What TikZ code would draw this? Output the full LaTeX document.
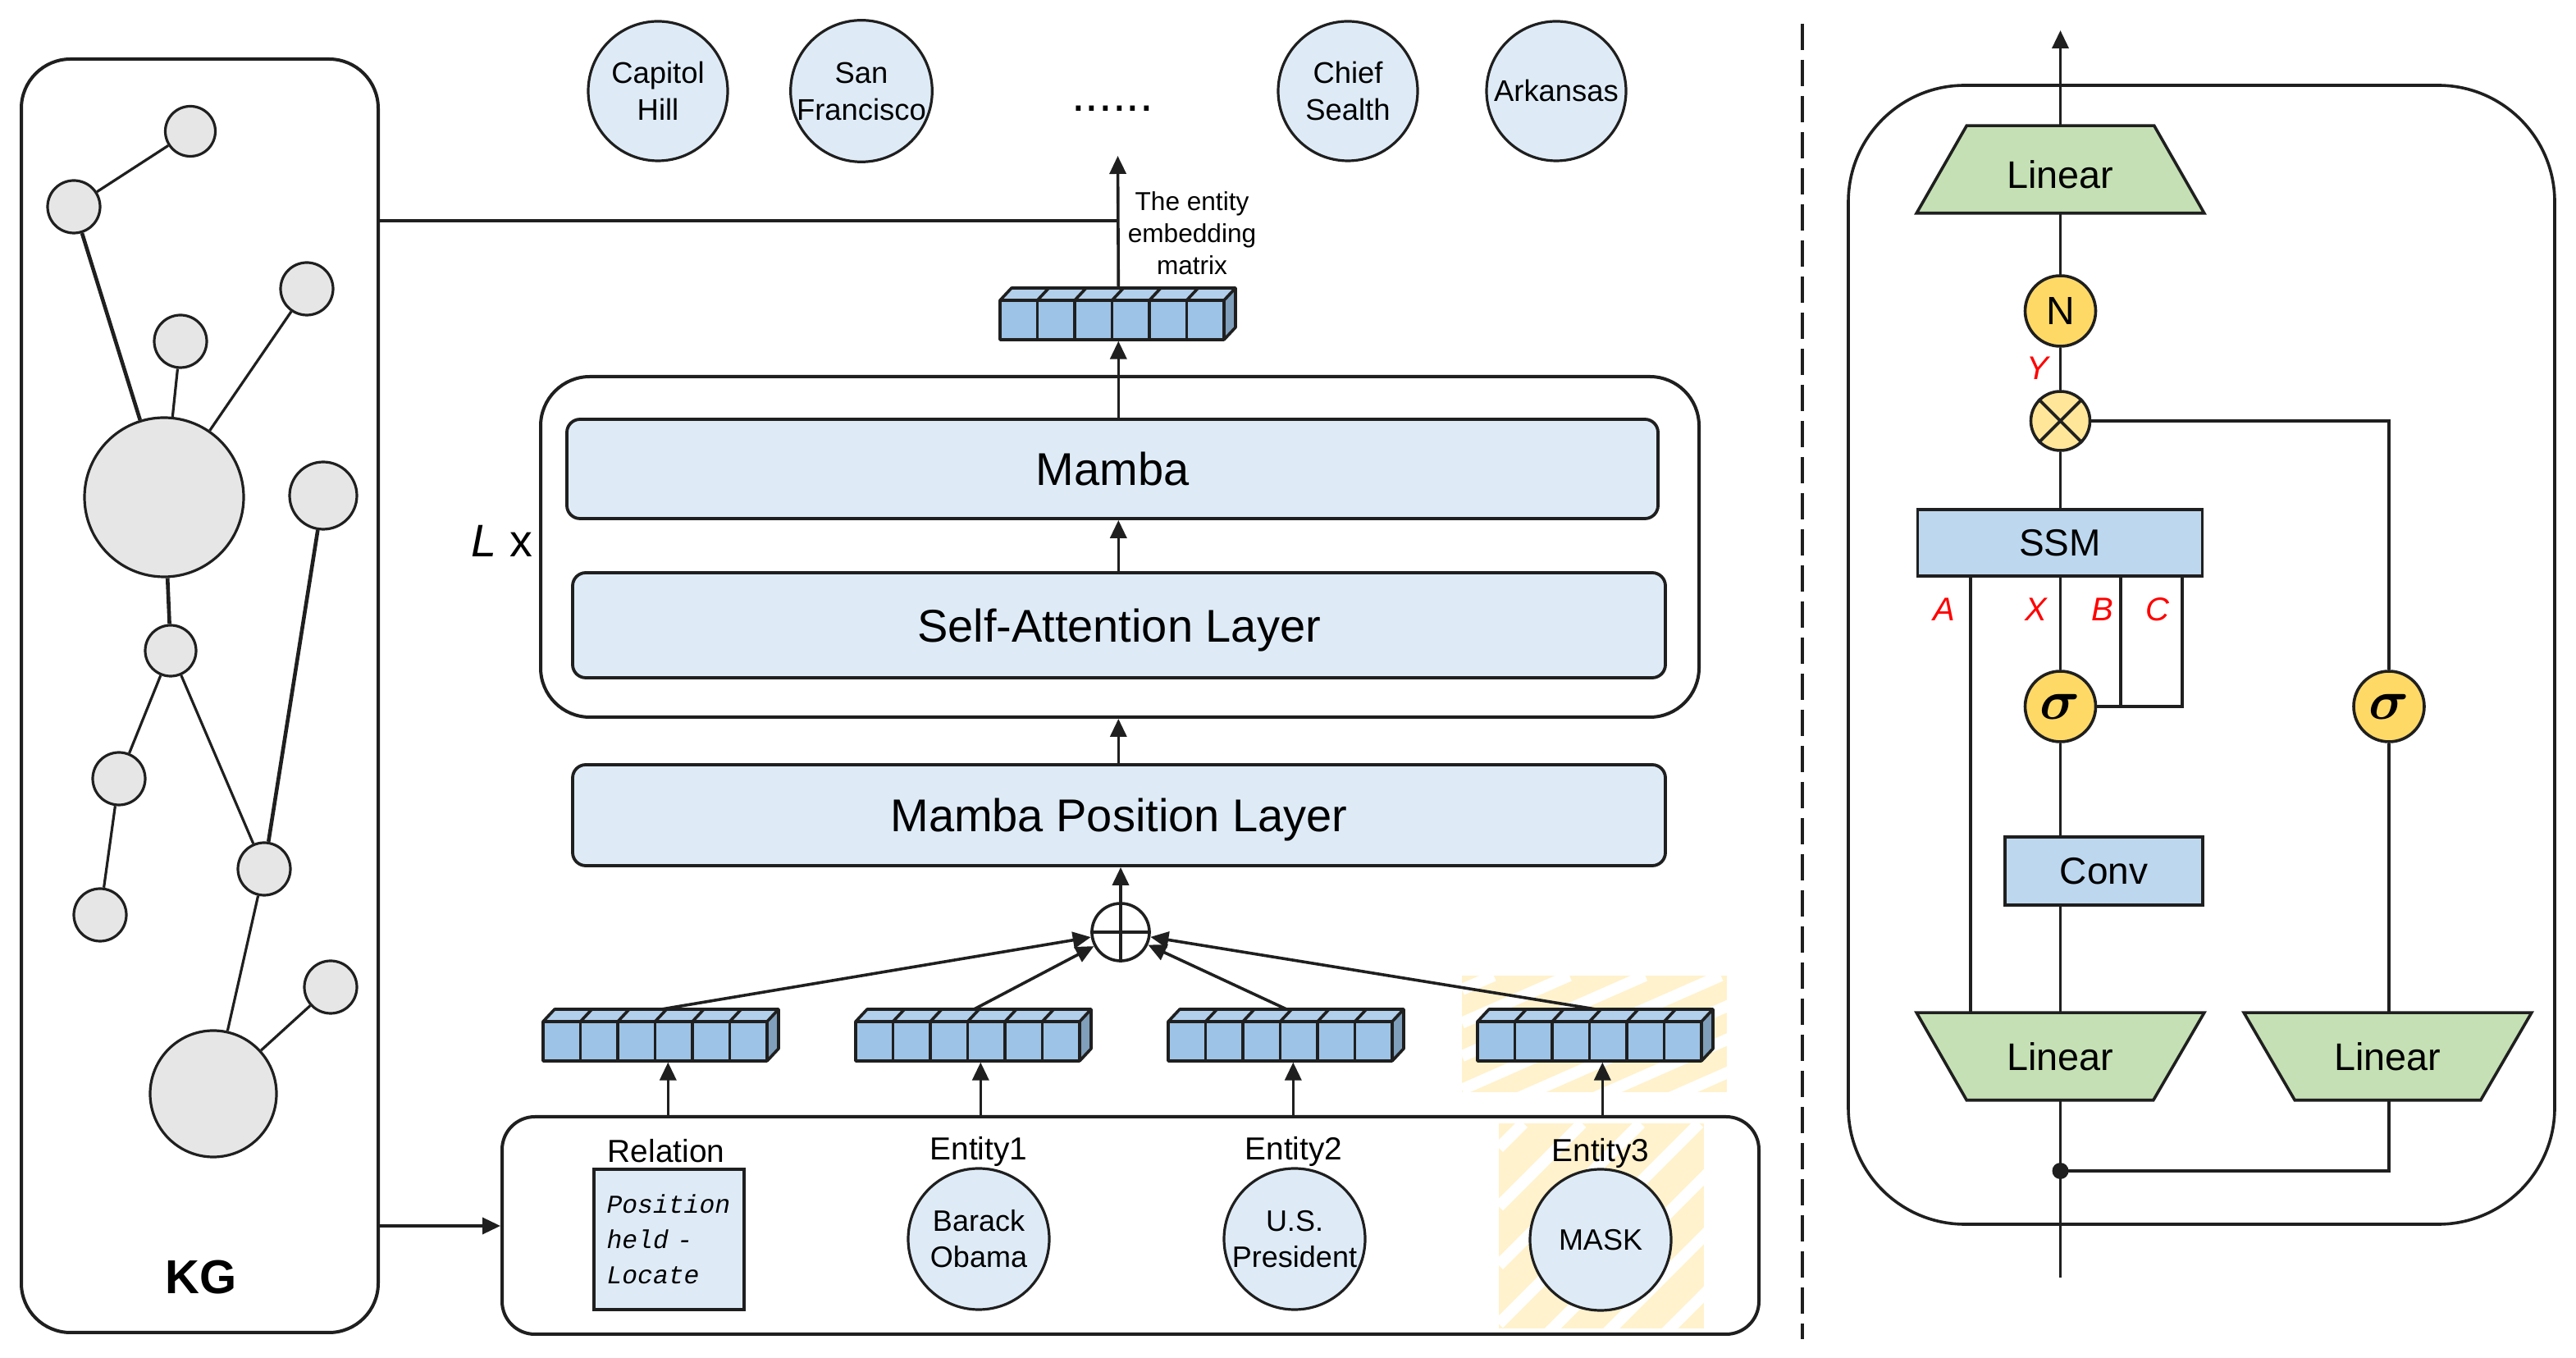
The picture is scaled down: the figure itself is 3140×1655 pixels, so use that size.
\documentclass[tikz,border=0pt]{standalone}
\usepackage{fix-cm}
\usepackage{bm}
\usepackage{fontspec}
\setmainfont{Liberation Sans}
\newfontfamily\relfont{Liberation Mono}
\usetikzlibrary{arrows.meta,calc}
\pgfdeclarelayer{bg}
\pgfsetlayers{bg,main}
\definecolor{lc}{HTML}{1F1F1F}
\definecolor{kgfill}{HTML}{E6E6E6}
\definecolor{boxfill}{HTML}{DEEBF7}
\definecolor{vfront}{HTML}{9DC3E6}
\definecolor{vtop}{HTML}{B2CFEB}
\definecolor{vside}{HTML}{7F9FBB}
\definecolor{ssmfill}{HTML}{BDD7EE}
\definecolor{grn}{HTML}{C5E0B4}
\definecolor{yel}{HTML}{FFD966}
\definecolor{mulc}{HTML}{FFE699}
\definecolor{hatchc}{HTML}{FFF2CC}
\newcommand\EmbVec[3]{%
 \begin{scope}[shift={(#2,#3)}]
  \fill[vtop] (0,0) -- (14,-15) -- (287,-15) -- (273,0) -- cycle;
  \fill[vside] (273,0) -- (287,-15) -- (287,33) -- (273,48) -- cycle;
  \fill[vfront] (0,0) rectangle (273,48);
  \foreach \i in {1,...,5} {\draw[vline] (\i*45.5,0) -- (\i*45.5,48);
    \draw[vline] (\i*45.5,0) -- ++(14,-15);}
  \draw[vline] (0,0) rectangle (273,48);
  \draw[vline] (0,0) -- (14,-15) -- (287,-15) -- (287,33) -- (273,48);
  \draw[vline] (273,0) -- (287,-15);
 \end{scope}
 \node[inner sep=0pt, minimum width=71.75pt, minimum height=15.75pt, anchor=north west] (#1) at (#2,{#3-15}) {};
}
\newcommand\HatchBox[4]{%
 \begin{scope}
  \clip (#1,#2) rectangle (#3,#4);
  \fill[hatchc] (#1,#2) rectangle (#3,#4);
  \foreach \c in {0.12,0.4057,...,2.2} {
    \draw[white, line width=3.5pt] ({#1+\c*(#3-#1)},#2) -- (#1,{#2+\c*(#4-#2)});}
 \end{scope}
}
\newcommand\SigSym{$\bm{\sigma}$}
\begin{document}
\begin{tikzpicture}[x=0.25pt,y=-0.25pt,
 ln/.style={draw=lc, line width=0.9pt},
 arr/.style={ln, -{Triangle[length=5.5pt,width=5pt]}},
 vline/.style={draw=lc, line width=0.9pt, line join=round},
 kgn/.style={circle, draw=lc, fill=kgfill, line width=0.8pt, inner sep=0pt},
 kge/.style={draw=lc, line width=0.8pt},
 kgeb/.style={draw=lc, line width=1.15pt},
 tcirc/.style={circle, draw=lc, fill=boxfill, line width=0.8pt, minimum size=42.5pt, inner sep=0pt, align=center, font=\fontsize{9.1pt}{11.25pt}\selectfont},
 layerbox/.style={draw=lc, fill=boxfill, rounded corners=4pt, line width=0.95pt, inner sep=0pt, text depth=0pt, font=\fontsize{14pt}{17pt}\selectfont},
 bigbox/.style={draw=lc, line width=1pt, inner sep=0pt},
 ecirc/.style={circle, draw=lc, fill=boxfill, line width=0.8pt, minimum size=43pt, inner sep=0pt, align=center, font=\fontsize{9pt}{11pt}\selectfont},
 lab/.style={font=\fontsize{9.7pt}{11pt}\selectfont, inner sep=0pt, anchor=base},
 rbox/.style={draw=lc, fill=ssmfill, line width=0.9pt, inner sep=0pt, font=\fontsize{11.5pt}{13pt}\selectfont},
 ycirc/.style={circle, draw=lc, fill=yel, line width=0.9pt, inner sep=0pt, minimum size=21.5pt},
 redl/.style={text=red, font=\fontsize{10pt}{12pt}\selectfont\itshape, inner sep=0pt},
 tz/.style={inner sep=0pt, minimum width=87.25pt, minimum height=26.25pt, text depth=0pt, font=\fontsize{11.7pt}{13pt}\selectfont},
 trap/.style={draw=lc, fill=grn, line width=0.9pt, line join=miter},
 sigmafont/.style={font=\fontsize{17pt}{18pt}\selectfont}
]
\useasboundingbox (0,0) rectangle (3140,1655);

% ---------- hatched highlight ----------
\HatchBox{1782}{1189}{2105}{1331}
\HatchBox{1827}{1369}{2077}{1619}

% ---------- KG panel ----------
\node[bigbox, rounded corners=15pt, minimum width=108.75pt, minimum height=388pt] (kg) at (243.5,848) {};
\node[kgn, minimum size=15.25pt] (n1) at (232,160) {};
\node[kgn, minimum size=16pt] (n2) at (90,252) {};
\node[kgn, minimum size=16pt] (n3) at (374,352) {};
\node[kgn, minimum size=16pt] (n4) at (220,416) {};
\node[kgn, minimum size=48.5pt] (b1) at (200,606) {};
\node[kgn, minimum size=20.5pt] (n5) at (394,604) {};
\node[kgn, minimum size=15.5pt] (n6) at (208,793) {};
\node[kgn, minimum size=16pt] (n7) at (145,949) {};
\node[kgn, minimum size=16pt] (n8) at (122,1115) {};
\node[kgn, minimum size=16pt] (n9) at (322,1059) {};
\node[kgn, minimum size=16pt] (n10) at (403,1203) {};
\node[kgn, minimum size=38.5pt] (b2) at (260,1333) {};
\draw[kge] (n1) -- (n2);
\draw[kgeb] (n2) -- (b1);
\draw[kge] (n4) -- (b1);
\draw[kge] (n3) -- (b1);
\draw[kgeb] (b1) -- (n6);
\draw[kge] (n6) -- (n7);
\draw[kge] (n7) -- (n8);
\draw[kge] (n6) -- (n9);
\draw[kgeb] (n5) -- (n9);
\draw[kge] (n9) -- (b2);
\draw[kge] (b2) -- (n10);
\node[font=\fontsize{14.5pt}{16pt}\selectfont\bfseries, inner sep=0pt] (kglab) at (245,1557) {KG};

% ---------- output entities ----------
\node[tcirc] (c1) at (802,111) {Capitol\\Hill};
\node[tcirc] (c2) at (1050,111) {San\\Francisco};
\node[font=\fontsize{15pt}{16pt}\selectfont, inner sep=0pt, anchor=base] (dots) at (1356,136) {......};
\node[tcirc] (c3) at (1643,111) {Chief\\Sealth};
\node[tcirc] (c4) at (1897,111) {Arkansas};

% ---------- encoder ----------
\EmbVec{mat}{1219}{366}
\coordinate (topTip) at (1362.5,190);
\coordinate (kgTop) at (461,269);
\coordinate (kgBot) at (461,1494);
\draw[arr] (mat.north) -- (topTip);
\draw[ln] (kgTop) -- (kgTop -| mat.north);
\node[font=\fontsize{7.9pt}{9.8pt}\selectfont, align=center, inner sep=0pt] (matlab) at (1453,284) {The entity\\embedding\\matrix};

\node[bigbox, rounded corners=15pt, minimum width=353pt, minimum height=103.75pt] (lx) at (1365,666.5) {};
\node[font=\fontsize{13.9pt}{16pt}\selectfont, inner sep=0pt, anchor=base] (lxlab) at (612,679) {\itshape L\upshape\ x};
\node[layerbox, minimum width=332.5pt, minimum height=30.25pt] (mamba) at (1356,571.5) {Mamba};
\node[layerbox, minimum width=333pt, minimum height=32pt] (sal) at (1364,762) {Self-Attention Layer};
\node[layerbox, minimum width=333pt, minimum height=30.75pt] (mpl) at (1364,993.5) {Mamba Position Layer};
\draw[arr] (mat.south |- mamba.north) -- (mat.south);
\draw[arr] (mat.south |- sal.north) -- (mat.south |- mamba.south);
\draw[arr] (mat.south |- mpl.north) -- (mat.south |- lx.south);

\node[circle, draw=lc, fill=white, line width=0.9pt, minimum size=17.5pt, inner sep=0pt] (plus) at (1366,1136) {};
\draw[ln] (plus.north) -- (plus.south) (plus.west) -- (plus.east);
\draw[arr] (plus.north) -- (plus.north |- mpl.south);

\EmbVec{v1}{662}{1245}
\EmbVec{v2}{1043}{1245}
\EmbVec{v3}{1424}{1245}
\EmbVec{v4}{1801}{1245}
\draw[arr] (v1.north) -- (plus);
\draw[arr] (v2.north) -- (plus);
\draw[arr] (v3.north) -- (plus);
\draw[arr] (v4.north) -- (plus);

% ---------- input ----------
\node[bigbox, rounded corners=10pt, minimum width=383pt, minimum height=66.25pt] (inp) at (1378,1493.5) {};
\draw[arr] (kgBot) -- (kgBot -| inp.west);
\foreach \v in {v1,v2,v3,v4}
  \draw[arr] ([xshift=2pt]\v.south |- inp.north) -- ([xshift=2pt]\v.south);
\node[lab] (rellab) at (812,1417) {Relation};
\node[draw=lc, fill=boxfill, line width=1.1pt, minimum width=45.75pt, minimum height=42.75pt, inner sep=0pt, text width=38pt, align=left, font={\relfont\itshape\fontsize{7.85pt}{10.75pt}\selectfont}] (rel) at (815.5,1510.5) {Position\\held -\\Locate};
\node[lab] (e1lab) at (1193,1414) {Entity1};
\node[lab] (e2lab) at (1577,1414) {Entity2};
\node[lab] (e3lab) at (1951,1416) {Entity3};
\node[ecirc] (e1) at (1193,1510) {Barack\\Obama};
\node[ecirc] (e2) at (1578,1510) {U.S.\\President};
\node[ecirc] (e3) at (1951,1511) {MASK};

% ---------- divider ----------
\coordinate (dashTop) at (2197,29);
\coordinate (dashBot) at (2197,1632);
\draw[lc, line width=1pt, dash pattern=on 8pt off 3pt] (dashTop) -- (dashBot);

% ---------- Mamba block ----------
\node[draw=lc, line width=0.9pt, rounded corners=35.5pt, minimum width=215.25pt, minimum height=347pt, inner sep=0pt] (mbox) at (2683.5,798) {};
\node[tz, text height=11.5pt] (lin0) at (2511.5,206.5) {Linear};
\node[tz] (lin1) at (2511.5,1287.5) {Linear};
\node[tz] (lin2) at (2910.5,1287.5) {Linear};
\begin{pgfonlayer}{bg}
\draw[trap] ($(lin0.north west)+(61,0)$) -- ($(lin0.north east)+(-61,0)$) -- (lin0.south east) -- (lin0.south west) -- cycle;
\draw[trap] (lin1.north west) -- (lin1.north east) -- ($(lin1.south east)+(-62,0)$) -- ($(lin1.south west)+(61,0)$) -- cycle;
\draw[trap] (lin2.north west) -- (lin2.north east) -- ($(lin2.south east)+(-62,0)$) -- ($(lin2.south west)+(62,0)$) -- cycle;
\end{pgfonlayer}
\node[ycirc, font=\fontsize{12pt}{14pt}\selectfont] (N) at (2511.5,379) {N};
\node[circle, draw=lc, fill=mulc, line width=0.9pt, minimum size=18pt, inner sep=0pt] (mul) at (2511.5,513) {};
\draw[ln] (mul.north west) -- (mul.south east) (mul.north east) -- (mul.south west);
\node[rbox, minimum width=86.75pt, minimum height=20.25pt] (ssm) at (2511,661.5) {SSM};
\node[ycirc, sigmafont] (sig1) at (2511.5,861) {\SigSym};
\node[ycirc, sigmafont] (sig2) at (2912,861) {\SigSym};
\node[rbox, minimum width=60.25pt, minimum height=20.75pt] (conv) at (2564.5,1061.5) {Conv};
\node[circle, fill=lc, minimum size=5pt, inner sep=0pt] (dot) at (2511.5,1427) {};
\coordinate (outTop) at (2511.5,37);
\coordinate (botEnd) at (2511.5,1557);
\coordinate (aX) at (2402,861);
\coordinate (bX) at (2585,861);
\coordinate (cX) at (2660,861);
\draw[arr] (lin0.north) -- (outTop);
\draw[ln] (lin0.south) -- (N.north);
\draw[ln] (N.south) -- (mul.north);
\draw[ln] (mul.south) -- (mul.south |- ssm.north);
\draw[ln] (mul.east) -| (sig2.north);
\draw[ln] (aX |- ssm.south) -- (aX |- lin1.north);
\draw[ln] (sig1 |- ssm.south) -- (sig1.north);
\draw[ln] (bX |- ssm.south) -- (bX);
\draw[ln] (cX |- ssm.south) -- (cX) -- (sig1.east);
\draw[ln] (sig1.south) -- (sig1 |- conv.north);
\draw[ln] (sig1 |- conv.south) -- (sig1 |- lin1.north);
\draw[ln] (sig2.south) -- (sig2 |- lin2.north);
\draw[ln] (lin1.south) -- (botEnd);
\draw[ln] (dot.center) -| (sig2 |- lin2.south);
\node[redl] (labY) at (2484,449) {Y};
\node[redl] (labA) at (2370,743) {A};
\node[redl] (labX) at (2482,743) {X};
\node[redl] (labB) at (2563,743) {B};
\node[redl] (labC) at (2630,743) {C};
\end{tikzpicture}
\end{document}
